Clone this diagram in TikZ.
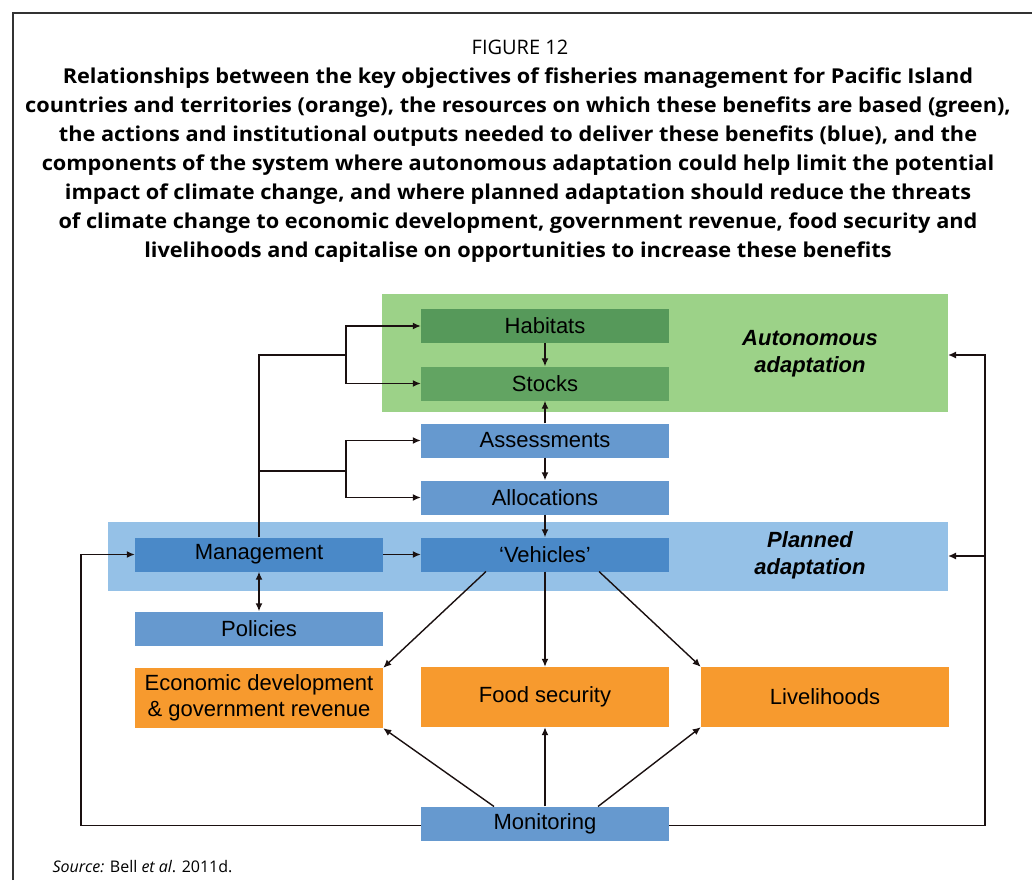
\documentclass[tikz,border=0pt]{standalone}
\usepackage{fontspec}
\setmainfont{Liberation Sans}
\newfontfamily\titlefont{Open Sans}
\newfontfamily\titleboldfont[FakeStretch=1.06]{Open Sans Bold}
\usetikzlibrary{arrows.meta}
\definecolor{bandgreen}{HTML}{9CD288}
\definecolor{habgreen}{HTML}{56995A}
\definecolor{stkgreen}{HTML}{62A462}
\definecolor{bandblue}{HTML}{95C1E7}
\definecolor{midblue}{HTML}{6699CF}
\definecolor{darkblue}{HTML}{4A89C8}
\definecolor{orangebox}{HTML}{F79A2E}
\definecolor{lineblk}{HTML}{1A1010}
\tikzset{
  x=1pt, y=-1pt,
  boxnode/.style={rectangle, inner sep=0pt, minimum width=248pt, font=\fontsize{22}{26}\selectfont, align=center},
  thinbox/.style={boxnode, minimum height=34pt},
  tallbox/.style={boxnode, minimum height=60pt},
  conn/.style={line width=1.4pt, draw=lineblk},
  arr/.style={conn, -{Latex[length=8pt,width=7pt]}},
  darr/.style={conn, {Latex[length=8pt,width=7pt]}-{Latex[length=8pt,width=7pt]}},
  bandlabel/.style={font=\fontsize{22}{27}\selectfont\bfseries\itshape, align=center},
}
\begin{document}
\begin{tikzpicture}
\useasboundingbox (0,0) rectangle (1032,880);
% frame
\draw[line width=1.3pt, draw=black!80] (13,880) -- (13,13) -- (1040,13);
% title
\node[font=\titlefont\fontsize{20}{29}\selectfont] (fig) at (520,47) {FIGURE 12};
\node[font=\titleboldfont\fontsize{20.5}{29}\selectfont, align=center, anchor=north] (title) at (518,64) {Relationships between the key objectives of fisheries management for Pacific Island\\
countries and territories (orange), the resources on which these benefits are based (green),\\
the actions and institutional outputs needed to deliver these benefits (blue), and the\\
components of the system where autonomous adaptation could help limit the potential\\
impact of climate change, and where planned adaptation should reduce the threats\\
of climate change to economic development, government revenue, food security and\\
livelihoods and capitalise on opportunities to increase these benefits};
% bands
\fill[bandgreen] (382,294) rectangle (948,412);
\fill[bandblue] (108,522) rectangle (948,591);
\coordinate (greenE) at (948,355);
\coordinate (blueE) at (948,556);
\node[bandlabel] (auto) at (810,354) {Autonomous\\adaptation};
\node[bandlabel] (plan) at (810,555) {Planned\\adaptation};
% boxes
\node[thinbox, fill=habgreen] (hab) at (545,326) {Habitats};
\node[thinbox, fill=stkgreen] (stk) at (545,383.5) {Stocks};
\node[thinbox, fill=midblue] (ass) at (545,440.5) {Assessments};
\node[thinbox, fill=midblue] (all) at (545,497.5) {Allocations};
\node[thinbox, fill=darkblue] (veh) at (545,554.5) {`Vehicles'};
\node[thinbox, fill=darkblue] (mgmt) at (259,554.5) {Management};
\node[thinbox, fill=midblue] (pol) at (259,628.5) {Policies};
\node[tallbox, fill=orangebox, font=\fontsize{22}{26}\selectfont] (econ) at (259,698) {Economic development\\\& government revenue};
\node[tallbox, fill=orangebox] (food) at (545,697) {Food security};
\node[tallbox, fill=orangebox] (liv) at (825,697) {Livelihoods};
\node[thinbox, fill=midblue] (mon) at (545,823.5) {Monitoring};
% connectors
\coordinate (b1) at (346,355);
\coordinate (b2) at (346,471);
\draw[arr] (mgmt.north) |- (b1) |- (hab.west);
\draw[arr] (b1) |- (stk.west);
\draw[arr] (mgmt.north |- b2) -- (b2) |- (ass.west);
\draw[arr] (b2) |- (all.west);
\draw[arr] (hab.south) -- (stk.north);
\draw[arr] (ass.north) -- (stk.south);
\draw[arr] (ass.south) -- (all.north);
\draw[arr] (all.south) -- (veh.north);
\draw[arr] (mgmt.east) -- (veh.west);
\draw[darr] (mgmt.south) -- (pol.north);
\coordinate (vl) at (486,571.5);
\coordinate (vr) at (599,571.5);
\draw[arr] (vl) -- (econ.north east);
\draw[arr] (veh.south) -- (food.north);
\draw[arr] (vr) -- (liv.north west);
\coordinate (ml) at (494,806.5);
\coordinate (mr) at (598,806.5);
\draw[arr] (ml) -- (econ.south east);
\draw[arr] (mon.north) -- (food.south);
\draw[arr] (mr) -- (liv.south west);
\coordinate (lc) at (81,825.5);
\coordinate (rc) at (985,825.5);
\draw[arr] (mon.west |- lc) -- (lc) |- (mgmt.west);
\draw[arr] (mon.east |- rc) -- (rc) |- (greenE);
\draw[arr] (rc |- blueE) -- (blueE);
% source
\node[font=\titlefont\fontsize{16}{18}\selectfont, anchor=base west] (src) at (49,872) {\textit{Source:} Bell \textit{et al}. 2011d.};
\end{tikzpicture}
\end{document}
